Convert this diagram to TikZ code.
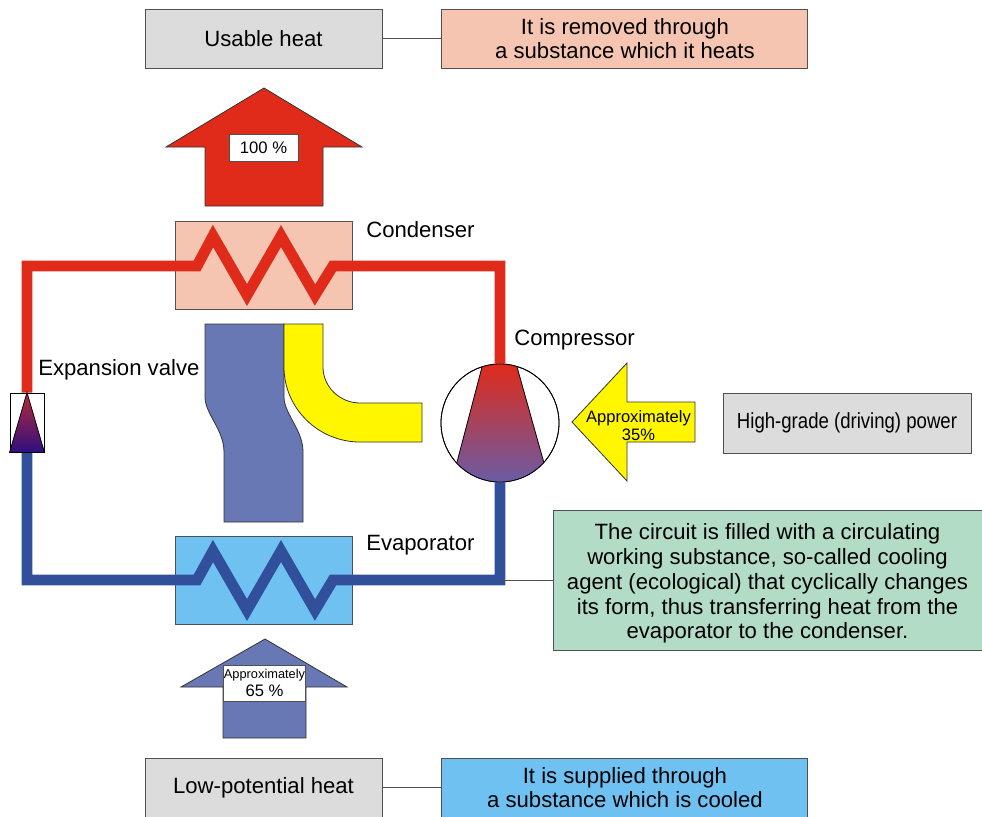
\documentclass[tikz,border=0pt]{standalone}
\usepackage{fontspec}
\setmainfont{Liberation Sans}
\usetikzlibrary{calc,positioning}

\definecolor{heatred}{HTML}{E02B1A}
\definecolor{coldblue}{HTML}{314F9A}
\definecolor{flowblue}{HTML}{6878B4}
\definecolor{drive}{HTML}{FFF600}
\definecolor{paleRed}{HTML}{F6C5B2}
\definecolor{paleBlue}{HTML}{6FC1F2}
\definecolor{paleGreen}{HTML}{B3DCC6}
\definecolor{paleGrey}{HTML}{DCDCDC}
\definecolor{edgeGrey}{HTML}{505050}
\definecolor{valveDark}{HTML}{2E0F80}
\definecolor{valveTop}{HTML}{B82A3A}
\definecolor{pumpLow}{HTML}{6A5CA4}

\begin{document}
\begin{tikzpicture}[x=0.75pt,y=-0.75pt,font=\fontsize{16.6}{18.6}\selectfont]
        \tikzstyle{block} = [draw=edgeGrey, line width=0.7pt, rectangle, inner sep=0pt, align=center]
        \tikzstyle{wide} = [block, minimum width=177.75pt, minimum height=44.25pt, fill=paleGrey]
        \tikzstyle{note} = [block, minimum width=274.5pt, minimum height=44.25pt]
        \tikzstyle{exchanger} = [block, minimum width=132.75pt, minimum height=66pt]
        \tikzstyle{pipe} = [line width=8.2pt, miter limit=10]
        \tikzstyle{flow} = [draw=black!80, line width=0.6pt]
        \tikzstyle{tag} = [anchor=west, inner sep=0pt]
        \tikzstyle{lead} = [draw=edgeGrey, line width=0.5pt]
        \useasboundingbox (0,0) rectangle (982,817);

        % boxes at top and bottom
        \node [wide] (usable) at (263.5,38.5) {Usable heat};
        \node [note, fill=paleRed, right=44.25pt of usable] (removed) {It is removed through\\a substance which it heats};
        \node [wide] (low) at (263.5,787.5) {Low-potential heat};
        \node [note, fill=paleBlue, right=44.25pt of low] (supplied) {It is supplied through\\a substance which is cooled};
        \draw [lead] (usable) -- (removed);
        \draw [lead] (low) -- (supplied);

        % heat flows
        \draw [flow, fill=heatred] (264,88) -- (362,147) -- (323,147) -- (323,206) -- (205,206) -- (205,147) -- (166,147) -- cycle;
        \node [block, fill=white, minimum width=51.75pt, minimum height=20.25pt, font=\fontsize{12.5}{14}\selectfont] (full) at (263.5,147.5) {100 \%};
        \draw [flow, fill=flowblue] (265,639) -- (347,687) -- (306,687) -- (306,738) -- (223,738) -- (223,687) -- (181,687) -- cycle;
        \node [block, fill=white, minimum width=61.5pt, minimum height=27pt, font=\fontsize{12.5}{14}\selectfont] (part) at (264.5,683) {{\fontsize{9.6}{11}\selectfont Approximately}\\65 \%};
        \draw [flow, fill=flowblue] (205,324) -- (205,398) .. controls (206,415) and (224,430) .. (224,452) -- (224,522) -- (303,522) -- (303,452) .. controls (303,430) and (285,415) .. (284,398) -- (284,324) -- cycle;
        \draw [flow, fill=drive] (284,324) -- (323,324) -- (323,367) .. controls (323,387) and (340,403) .. (360,403) -- (422,403) -- (422,442) -- (360,442) .. controls (318,442) and (284,408) .. (284,367) -- cycle;
        \draw [flow, fill=drive] (572,422) -- (627,363) -- (627,402) -- (695,402) -- (695,442) -- (627,442) -- (627,481) -- cycle;
        \node [inner sep=0pt, align=center, font=\fontsize{12.4}{14}\selectfont] (driven) at (638.5,425.5) {Approximately\\35\%};

        % heat exchangers
        \node [exchanger, fill=paleRed] (condenser) at (263.5,265) {};
        \node [exchanger, fill=paleBlue] (evaporator) at (263.5,580.5) {};
        \node [block, draw=black, fill=white, minimum width=25.5pt, minimum height=44.25pt] (valve) at (27,422.5) {};
        \node [circle, draw=black, fill=white, line width=0.6pt, inner sep=0pt, minimum size=88.5pt] (compressor) at (500,423) {};

        % circuit
        \draw [pipe, heatred] (valve.north) -- (27,266) -- (197,266) -- (213,236) -- (247,295) -- (281,236) -- (315,295) -- (333,266) -- (500,266) -- (compressor.north);
        \draw [pipe, coldblue] (valve.south) -- (27,580) -- (197,580) -- (213,551) -- (247,610) -- (281,551) -- (315,610) -- (333,580) -- (500,580) -- (compressor.south);

        % valve and compressor
        \draw [line width=0.6pt, draw=black, top color=valveTop, bottom color=valveDark] (valve.north) -- (valve.south west) -- (valve.south east) -- cycle;
        \begin{scope}
            \clip (compressor.center) circle [radius=44.25pt];
            \shade [top color=heatred, bottom color=pumpLow] (482.8,364) -- (516.2,364) -- (549.3,482) -- (451.8,482) -- cycle;
            \draw [line width=0.6pt] (482.8,364) -- (451.8,482);
            \draw [line width=0.6pt] (516.2,364) -- (549.3,482);
        \end{scope}
        \draw [line width=0.6pt] (compressor.center) circle [radius=44.25pt];

        % labels
        \node [tag] (lblcond) at (366,229.5) {Condenser};
        \node [tag] (lblevap) at (366,545.5) {Evaporator};
        \node [tag] (lblcomp) at (514,340.5) {Compressor};
        \node [tag] (lblvalve) at (38,369.5) {Expansion valve};

        \node [block, fill=paleGrey, minimum width=186pt, minimum height=45pt] (power) at (847,423) {\scalebox{0.85}[1]{\fontsize{16.4}{18}\selectfont High-grade (driving) power}};
        \node [block, fill=paleGreen, minimum width=321.75pt, minimum height=105pt] (circuit) at (767.5,580) {\rule{0pt}{17.5pt}The circuit is filled with a circulating\\working substance, so-called cooling\\agent (ecological) that cyclically changes\\its form, thus transferring heat from the\\evaporator to the condenser.};
        \coordinate (tap) at (500,580);
        \draw [lead] (tap) -- (circuit);
    \end{tikzpicture}
\end{document}
